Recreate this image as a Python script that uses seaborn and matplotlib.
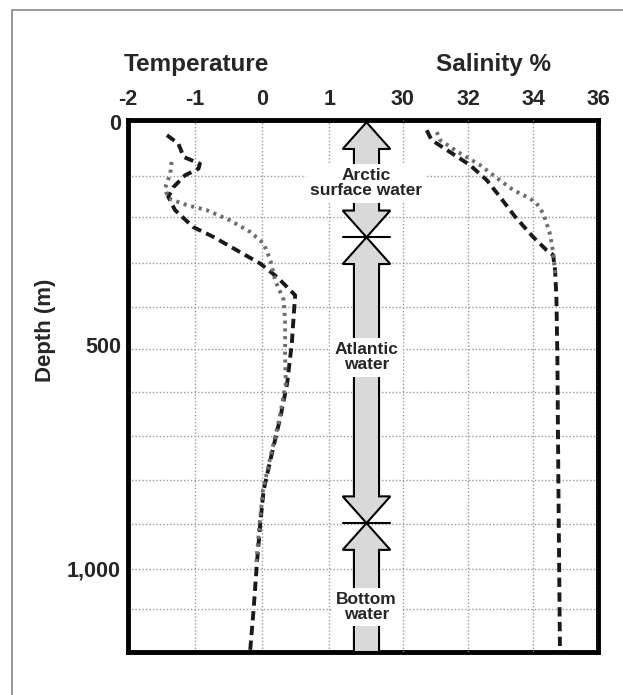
import numpy as np
import pandas as pd
import matplotlib
matplotlib.use('Agg')
import matplotlib.pyplot as plt
from matplotlib.patches import Polygon
from matplotlib.lines import Line2D
import seaborn as sns

sns.set_style('white')
plt.rcParams['font.family'] = ['Liberation Sans', 'DejaVu Sans']
plt.rcParams['font.weight'] = 'bold'
plt.rcParams['axes.unicode_minus'] = False

# temperature profiles (deg C) vs depth (m)
depth_temp_a = [29, 48, 78, 93, 104, 119, 145, 167, 197, 235, 257, 287, 317, 347, 388,
                429, 496, 586, 661, 758, 825, 900, 989, 1094, 1184]
temp_a = [-1.42, -1.25, -1.17, -0.93, -0.95, -1.15, -1.32, -1.40, -1.30, -1.03, -0.73, -0.38,
          -0.03, 0.22, 0.49, 0.47, 0.44, 0.37, 0.27, 0.12, 0.02, -0.03, -0.08, -0.13, -0.18]
depth_temp_b = [89, 115, 149, 171, 186, 197, 220, 246, 272, 309, 354, 399, 451, 526, 586,
                661, 758, 825, 900, 990]
temp_b = [-1.35, -1.37, -1.45, -1.40, -1.12, -0.83, -0.48, -0.18, 0.02, 0.12, 0.19, 0.32,
          0.34, 0.34, 0.35, 0.26, 0.11, 0.01, -0.04, -0.09]

# salinity profiles
depth_sal_a = [18, 40, 67, 96, 130, 167, 212, 257, 287, 298, 332, 392, 526, 800, 1188]
sal_a = [30.73, 30.88, 31.45, 32.06, 32.58, 32.98, 33.45, 34.0, 34.42, 34.62, 34.68, 34.72,
         34.75, 34.78, 34.83]
depth_sal_b = [22, 40, 67, 96, 130, 152, 171, 182, 205, 250, 291, 340]
sal_b = [31.04, 31.14, 31.70, 32.37, 32.98, 33.39, 33.91, 34.11, 34.32, 34.52, 34.62, 34.68]

# water masses
layer_names = ['Arctic\nsurface water', 'Atlantic\nwater', 'Bottom\nwater']
layer_bounds = [0, 258, 899, 1188]
label_depths = [137, 527, 1087]

temp_ticks = [-2, -1, 0, 1]
sal_ticks = [30, 32, 34, 36]
depth_ticks = [0, 500, 1000]
depth_labels = ['0', '500', '1,000']
grid_depths = [121, 213, 316, 415, 509, 605, 704, 803, 901, 1002, 1092]

fig = plt.figure(figsize=(6.23, 6.95), dpi=100)
ax = fig.add_axes([128 / 623, 1 - 652 / 695, 470 / 623, 532 / 695])
ax2 = ax.twiny()

grid_kw = dict(color='#9a9a9a', linestyle=(0, (1, 1.5)), linewidth=1.0)
dash_kw = dict(color='#1a1a1a', linestyle=(0, (2.4, 1.4)), linewidth=2.8)
dot_kw = dict(color='#6e6e6e', linestyle=(0, (0.8, 1.2)), linewidth=2.8)

sns.lineplot(x=temp_a, y=depth_temp_a, ax=ax, sort=False, estimator=None, **dash_kw)
sns.lineplot(x=temp_b, y=depth_temp_b, ax=ax, sort=False, estimator=None, **dot_kw)
sns.lineplot(x=sal_a, y=depth_sal_a, ax=ax2, sort=False, estimator=None, **dash_kw)
sns.lineplot(x=sal_b, y=depth_sal_b, ax=ax2, sort=False, estimator=None, **dot_kw)

ax.set_xlim(-2, 5.0)
ax2.set_xlim(21.54, 36)
ax.set_ylim(1188, -5)

ax.xaxis.tick_top()
ax.set_xticks(temp_ticks)
ax2.set_xticks(sal_ticks)
ax.set_yticks(depth_ticks)
ax.set_yticklabels(depth_labels)
ax.set_yticks(grid_depths, minor=True)
for a in (ax, ax2):
    a.set_xlabel('')
    a.set_ylabel('')
    a.tick_params(axis='both', which='both', length=0, labelsize=15.5, pad=7)
ax.tick_params(axis='y', pad=5)
ax.grid(axis='x', **grid_kw)
ax.grid(axis='y', which='minor', **grid_kw)
ax2.grid(axis='x', **grid_kw)
ax2.grid(axis='y', visible=False)
ax2.set_axisbelow(True)
for s in ax.spines.values():
    s.set_linewidth(3.5)
    s.set_color('black')
for s in ax2.spines.values():
    s.set_visible(False)

# arrows marking the water masses
cx, sw, hw, hl = 1.552, 0.187, 0.355, 60
for i in range(len(layer_names)):
    t, b = layer_bounds[i], layer_bounds[i + 1]
    pts = [(cx, t), (cx + hw, t + hl), (cx + sw, t + hl)]
    if i < len(layer_names) - 1:
        pts += [(cx + sw, b - hl), (cx + hw, b - hl), (cx, b), (cx - hw, b - hl), (cx - sw, b - hl)]
    else:
        pts += [(cx + sw, b), (cx - sw, b)]
    pts += [(cx - sw, t + hl), (cx - hw, t + hl)]
    ax2.add_patch(Polygon(pts, closed=True, facecolor='#d9d9d9', edgecolor='black',
                          linewidth=1.5, transform=ax.transData, zorder=5))
    if 0 < i:
        ax2.plot([cx - hw, cx + hw], [t, t], color='black', lw=1.5,
                 transform=ax.transData, zorder=6)
    ax2.text(cx, label_depths[i], layer_names[i], transform=ax.transData, ha='center',
             va='center', fontsize=12.5, fontweight='bold', linespacing=1.0, zorder=7,
             bbox=dict(boxstyle='square,pad=0.25', facecolor='white', edgecolor='none'))

fig.text(196 / 623, 1 - 64 / 695, 'Temperature', ha='center', va='center',
         fontsize=17.5, fontweight='bold')
fig.text(493 / 623, 1 - 64 / 695, 'Salinity %', ha='center', va='center',
         fontsize=17.5, fontweight='bold')
fig.text(45 / 623, 1 - 330 / 695, 'Depth (m)', ha='center', va='center', rotation=90,
         fontsize=16, fontweight='bold')

fig.add_artist(Line2D([12 / 623, 12 / 623], [0, 1 - 10 / 695], color='#888888', lw=1.2))
fig.add_artist(Line2D([12 / 623, 1], [1 - 10 / 695, 1 - 10 / 695], color='#888888', lw=1.2))

fig.savefig('out.png', dpi=100)
